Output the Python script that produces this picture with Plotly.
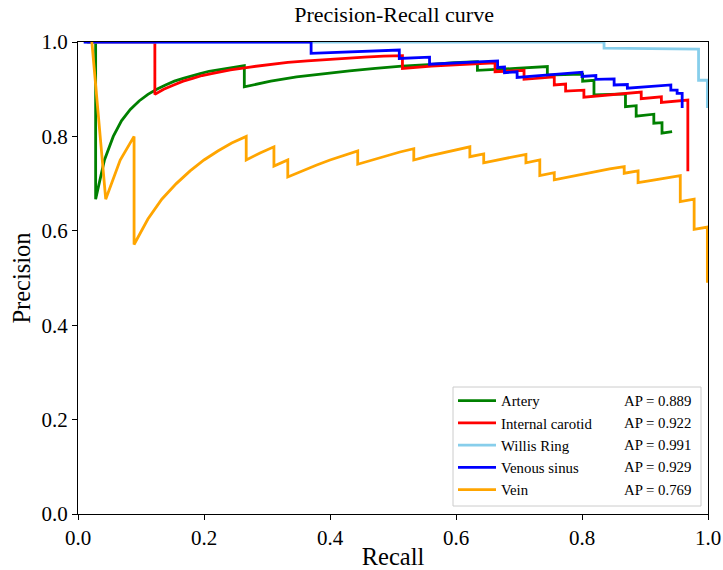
import plotly.graph_objects as go

# Precision-recall curves, one per vessel class
names = ["Artery", "Internal carotid", "Willis Ring", "Venous sinus", "Vein"]
ap_values = [0.889, 0.922, 0.991, 0.929, 0.769]
colors = ["#008000", "#ff0000", "#87ceeb", "#0000ff", "#ffa500"]

artery_recall = [0.014, 0.028, 0.028, 0.042, 0.056, 0.069, 0.083, 0.097, 0.111, 0.125,
                 0.139, 0.153, 0.167, 0.181, 0.194, 0.208, 0.222, 0.236, 0.250, 0.264,
                 0.264, 0.306, 0.347, 0.389, 0.431, 0.472, 0.514, 0.556, 0.597, 0.634,
                 0.634, 0.694, 0.745, 0.745, 0.801, 0.801, 0.819, 0.819, 0.869, 0.869,
                 0.886, 0.886, 0.914, 0.914, 0.927, 0.927, 0.943]
artery_precision = [1.000, 1.000, 0.667, 0.750, 0.800, 0.833, 0.857, 0.875, 0.889, 0.900,
                    0.909, 0.917, 0.923, 0.929, 0.933, 0.938, 0.941, 0.944, 0.947, 0.950,
                    0.905, 0.917, 0.926, 0.933, 0.939, 0.944, 0.949, 0.952, 0.956, 0.958,
                    0.940, 0.944, 0.948, 0.930, 0.932, 0.917, 0.919, 0.888, 0.890, 0.863,
                    0.865, 0.843, 0.847, 0.828, 0.829, 0.807, 0.810]

carotid_recall = [0.015, 0.122, 0.122, 0.136, 0.152, 0.167, 0.182, 0.197, 0.212, 0.242,
                  0.273, 0.303, 0.333, 0.364, 0.394, 0.424, 0.455, 0.485, 0.515, 0.515,
                  0.561, 0.606, 0.662, 0.662, 0.708, 0.708, 0.756, 0.756, 0.774, 0.774,
                  0.803, 0.803, 0.894, 0.894, 0.926, 0.926, 0.968, 0.968]
carotid_precision = [1.000, 1.000, 0.889, 0.900, 0.909, 0.917, 0.923, 0.929, 0.933, 0.941,
                     0.947, 0.952, 0.957, 0.960, 0.963, 0.966, 0.968, 0.970, 0.971, 0.944,
                     0.949, 0.952, 0.956, 0.937, 0.940, 0.921, 0.926, 0.909, 0.911, 0.896,
                     0.898, 0.883, 0.894, 0.880, 0.884, 0.872, 0.877, 0.726]

willis_recall = [0.010, 0.835, 0.835, 0.985, 0.985, 0.999, 0.999]
willis_precision = [1.000, 1.000, 0.987, 0.985, 0.919, 0.919, 0.860]

sinus_recall = [0.009, 0.370, 0.370, 0.420, 0.465, 0.510, 0.510, 0.558, 0.558, 0.610,
                0.666, 0.666, 0.677, 0.677, 0.697, 0.697, 0.750, 0.800, 0.800, 0.822,
                0.822, 0.851, 0.851, 0.872, 0.872, 0.941, 0.941, 0.951, 0.951, 0.959,
                0.959]
sinus_precision = [1.000, 1.000, 0.976, 0.978, 0.981, 0.983, 0.965, 0.968, 0.953, 0.957,
                   0.960, 0.946, 0.947, 0.935, 0.937, 0.925, 0.931, 0.936, 0.927, 0.929,
                   0.921, 0.922, 0.909, 0.910, 0.902, 0.909, 0.898, 0.898, 0.891, 0.891,
                   0.860]

vein_recall = [0.022, 0.044, 0.067, 0.089, 0.089, 0.111, 0.133, 0.156, 0.178, 0.200,
               0.222, 0.244, 0.267, 0.267, 0.289, 0.311, 0.311, 0.333, 0.333, 0.356,
               0.378, 0.400, 0.422, 0.444, 0.444, 0.467, 0.489, 0.511, 0.533, 0.533,
               0.556, 0.578, 0.600, 0.622, 0.622, 0.644, 0.644, 0.667, 0.689, 0.711,
               0.711, 0.733, 0.733, 0.756, 0.756, 0.778, 0.800, 0.822, 0.844, 0.867,
               0.867, 0.889, 0.889, 0.911, 0.933, 0.956, 0.956, 0.978, 0.978, 0.999,
               0.999]
vein_precision = [1.000, 0.667, 0.750, 0.800, 0.571, 0.625, 0.667, 0.700, 0.727, 0.750,
                  0.769, 0.786, 0.800, 0.750, 0.765, 0.778, 0.737, 0.750, 0.714, 0.727,
                  0.739, 0.750, 0.760, 0.769, 0.741, 0.750, 0.759, 0.767, 0.774, 0.750,
                  0.758, 0.765, 0.771, 0.778, 0.757, 0.763, 0.744, 0.750, 0.756, 0.762,
                  0.744, 0.750, 0.717, 0.723, 0.708, 0.714, 0.720, 0.725, 0.731, 0.736,
                  0.722, 0.727, 0.702, 0.707, 0.712, 0.717, 0.662, 0.667, 0.603, 0.608,
                  0.490]

x_ticks = [0.0, 0.2, 0.4, 0.6, 0.8, 1.0]
y_ticks = [0.0, 0.2, 0.4, 0.6, 0.8, 1.0]

curves = [
    (artery_recall, artery_precision),
    (carotid_recall, carotid_precision),
    (willis_recall, willis_precision),
    (sinus_recall, sinus_precision),
    (vein_recall, vein_precision),
]

FONT = "Liberation Serif, Times New Roman, serif"

fig = go.Figure()
for name, color, (rec, prec) in zip(names, colors, curves):
    fig.add_trace(go.Scatter(
        x=rec, y=prec, mode="lines", name=name,
        line=dict(color=color, width=2.8),
    ))

axis_common = dict(
    range=[0, 1], showline=True, linecolor="black", linewidth=1, mirror=True,
    ticks="outside", ticklen=5, tickwidth=1, tickcolor="black",
    showgrid=False, zeroline=False, tickformat=".1f", automargin=False,
    tickfont=dict(family=FONT, size=21, color="black"),
)

fig.update_layout(
    width=723, height=570,
    margin=dict(l=78, r=15, t=42, b=56, autoexpand=False),
    paper_bgcolor="white", plot_bgcolor="white",
    title=dict(text="Precision-Recall curve", x=0.545, xanchor="center",
               y=1 - 14 / 570, yanchor="middle", automargin=False,
               font=dict(family=FONT, size=22, color="black")),
    xaxis=dict(axis_common, tickvals=x_ticks,
               title=dict(text="Recall", standoff=3,
                          font=dict(family=FONT, size=24.5, color="black"))),
    yaxis=dict(axis_common, tickvals=y_ticks,
               title=dict(text="Precision", standoff=3,
                          font=dict(family=FONT, size=24.5, color="black"))),
    legend=dict(
        x=(453 - 78) / 630, y=(514 - 384.5) / 472, xanchor="left", yanchor="top",
        bgcolor="rgba(0,0,0,0)", borderwidth=0, itemwidth=38,
        font=dict(family=FONT, size=14.8, color="black"),
    ),
    showlegend=True,
)

# Legend frame and the AP column beside the entries
fig.add_shape(type="rect", xref="paper", yref="paper",
              x0=(453 - 78) / 630, x1=(701 - 78) / 630,
              y0=(514 - 506) / 472, y1=(514 - 387) / 472,
              line=dict(color="#cccccc", width=1), fillcolor="white", layer="below")

row_px = [400.8, 423.0, 445.2, 467.4, 489.6]
for ap, py in zip(ap_values, row_px):
    fig.add_annotation(xref="paper", yref="paper", x=(693 - 78) / 630, y=(514 - py) / 472,
                       xanchor="right", yanchor="middle", showarrow=False,
                       text=f"AP = {ap:.3f}",
                       font=dict(family=FONT, size=14.8, color="black"))

fig.write_html("out.html")
